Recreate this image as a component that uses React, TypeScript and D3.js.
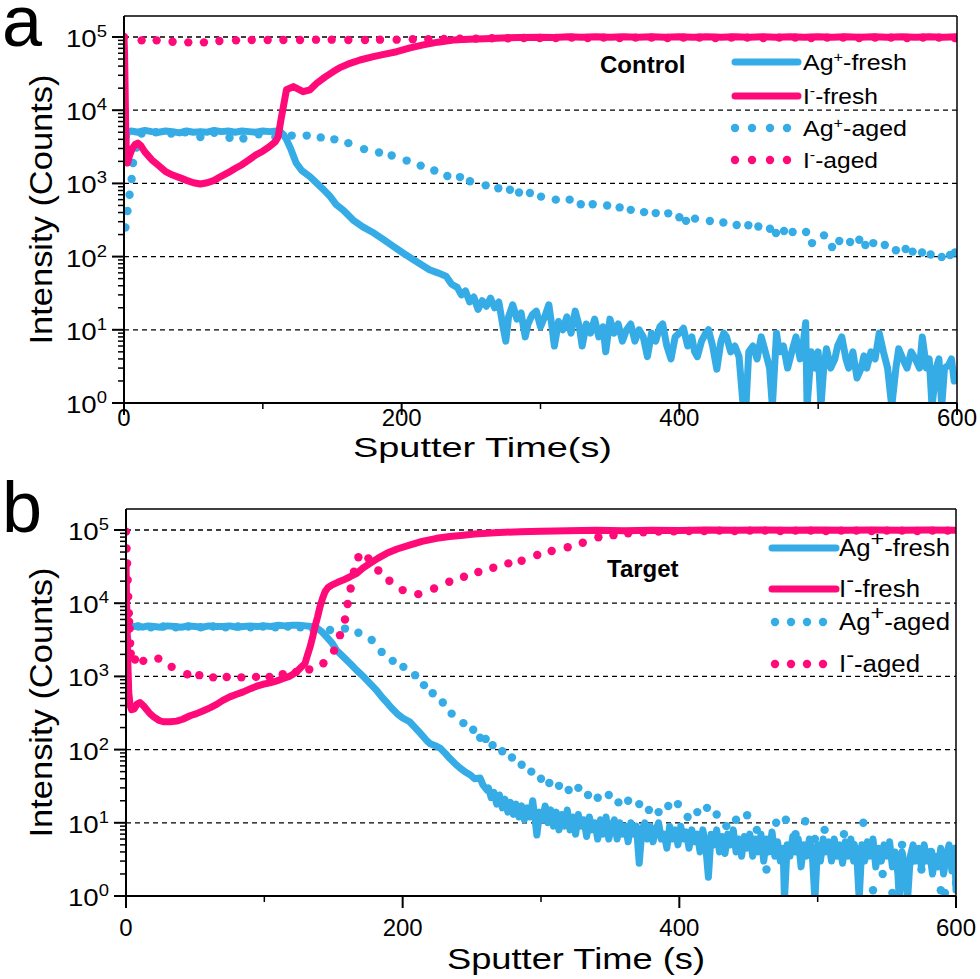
import React from 'react';
import * as d3 from 'd3';

type Pt = [number, number];

// ---- panel a (Control) ----
const agFreshA: Pt[] = [
  [0, 3500], [0.5, 2600], [1.5, 4200], [2.5, 5000], [5, 5200], [10, 5000], [15, 5300], [20, 5100],
  [25, 5000], [30, 5200], [35, 5100], [40, 4900], [45, 5200], [50, 5000], [55, 5100], [60, 5000],
  [65, 5300], [70, 5100], [75, 5200], [80, 5000], [85, 5200], [90, 5100], [95, 5000], [100, 5200],
  [105, 5100], [110, 5200], [113, 5000], [115, 4600], [117, 4000], [120, 3000], [124, 1900],
  [128, 1500], [134, 1230], [139, 1000], [144, 810], [148, 680], [153, 510], [158, 430], [165, 316],
  [172, 255], [180, 210], [187, 170], [194, 138], [201, 112], [208, 92], [214, 78], [220, 66],
  [226, 60], [232, 54], [236, 42], [240, 38], [243, 30], [246, 34], [249, 24], [252, 28], [255, 19],
  [258, 25], [261, 21], [264, 27], [267, 20], [270, 24], [273, 11], [275, 7], [277, 15], [280, 22],
  [283, 14], [286, 17], [289, 8], [291, 12], [294, 16], [297, 18], [300, 11], [303, 15], [306, 22],
  [308, 12], [310, 6], [313, 13], [316, 10], [319, 15], [322, 9], [325, 18], [328, 11], [330, 6],
  [333, 12], [336, 9], [339, 14], [342, 8], [345, 11], [347, 5], [350, 14], [353, 9], [356, 12],
  [359, 7], [362, 10], [365, 12], [368, 7], [371, 10], [374, 8], [377, 4.3], [380, 9], [383, 7],
  [386, 11], [388, 12], [391, 6], [394, 4], [397, 8], [400, 9], [403, 10.5], [406, 6], [409, 8],
  [411, 5], [413, 4.3], [416, 7], [419, 9], [421, 10], [424, 6], [427, 2.9], [430, 7], [432, 9],
  [434, 8], [437, 5], [440, 6], [443, 4.3], [446, 0.9], [448, 0.9], [450, 5], [453, 6], [456, 4],
  [459, 8], [462, 5], [465, 3], [467, 0.9], [470, 9], [472, 5], [475, 6], [478, 3], [481, 5],
  [484, 8], [487, 4], [489, 6], [491, 12.5], [492, 0.9], [495, 5], [498, 3], [500, 5], [502, 0.9],
  [504, 3], [506, 5.5], [509, 3], [512, 4], [514, 6], [517, 8], [520, 4], [522, 3], [525, 5],
  [528, 2.2], [531, 3], [533, 4.4], [535, 3], [538, 5], [541, 4], [544, 9], [547, 5], [550, 3],
  [553, 0.9], [556, 3], [558, 5.5], [561, 4], [564, 3], [567, 5], [570, 4], [573, 3], [575, 8],
  [578, 3], [580, 4], [582, 0.9], [585, 3], [587, 4], [589, 0.9], [591, 3], [594, 3.3], [596, 4],
  [598, 2], [600, 2.5],
];

const iFreshA: Pt[] = [
  [0, 100000], [0.4, 60000], [0.8, 20000], [1.2, 6000], [1.8, 2200], [2.5, 1900], [4, 2400],
  [6, 3000], [8, 3400], [10, 3550], [12, 3300], [15, 2700], [20, 2100], [25, 1750], [30, 1450],
  [35, 1300], [40, 1200], [45, 1100], [50, 1020], [55, 980], [60, 1020], [65, 1100], [70, 1250],
  [75, 1400], [80, 1600], [85, 1800], [90, 2100], [95, 2450], [100, 2750], [105, 3200], [109, 3700],
  [111, 4300], [113, 7300], [114.8, 11200], [117, 19000], [122, 21000], [129, 17900], [134, 19000],
  [138.8, 23300], [145, 28500], [150.8, 33700], [156, 38500], [162.8, 43700], [170, 48500],
  [179.6, 54000], [188, 58500], [196.4, 63000], [206, 71000], [215.6, 78000], [226, 85000],
  [237.2, 91000], [248, 93500], [260, 95000], [272, 97000], [285, 98500], [300, 99500], [310, 98500],
  [320, 100500], [330, 99000], [340, 101000], [350, 99000], [360, 100500], [370, 99500], [380, 101000],
  [390, 99000], [400, 100500], [410, 99500], [420, 101000], [430, 99000], [440, 100500], [450, 99500],
  [460, 101000], [470, 99000], [480, 100500], [490, 99500], [500, 101000], [510, 99000], [520, 100500],
  [530, 99500], [540, 101000], [550, 99000], [560, 100500], [570, 99500], [580, 101000], [590, 99500],
  [600, 100500],
];

const agAgedA: Pt[] = [
  [1, 250], [2.5, 420], [4, 700], [5.5, 1150], [6.5, 1900], [9, 3100], [12.7, 4800], [23, 5000],
  [34, 4800], [44, 5000], [55, 4300], [65, 4900], [76, 4200], [86, 4100], [97, 4700], [109, 4300],
  [120.8, 4500], [131.6, 4500], [141.7, 4250], [151.5, 4000], [161.6, 3550], [172.9, 2940],
  [183.7, 2640], [192.8, 2400], [203.6, 2050], [213.7, 1750], [223.5, 1500], [232.9, 1260],
  [242, 1220], [249.2, 1070], [260.5, 940], [269.6, 860], [278, 820], [284.5, 750], [292.4, 740],
  [300.4, 660], [311, 600], [321, 600], [329, 520], [337.6, 520], [348, 500], [357, 470], [365, 435],
  [374.6, 405], [383, 393], [392, 390], [400, 345], [404.8, 308], [411.3, 330], [422, 306],
  [431.7, 293], [441.3, 270], [449.7, 268], [456.9, 258], [465.3, 240], [469.6, 210], [475.4, 224],
  [481.6, 217], [491.3, 217], [495.6, 153], [504.2, 195], [510, 135], [515.2, 163], [523, 158],
  [529.6, 170], [534, 144], [539.7, 153], [548, 144], [556, 122], [563, 127], [568, 117],
  [574.8, 114], [581, 107], [589, 99], [595, 105], [598.6, 114],
];

const iAgedA: Pt[] = [
  [0, 100000], [12.7, 90000], [23.5, 90000], [35, 86000], [46.3, 84500], [57.6, 84500], [68.7, 88000],
  [80.7, 90000], [92, 91000], [103.5, 91000], [114.8, 91000], [126.8, 91000], [138.3, 92000],
  [149.6, 92000], [161.6, 91000], [173.6, 91000], [184.4, 92000], [196.4, 92000], [208, 93000],
  [219.2, 93000], [230.5, 94000], [242, 95000], [253.5, 95000], [265, 96000], [276.5, 96000],
  [288, 97000], [299.5, 97000], [311, 97000], [322.5, 98000], [334, 97000], [345.5, 98000],
  [357, 97000], [368.5, 98000], [380, 98000], [391.5, 97000], [403, 98000], [414.5, 98000],
  [426, 97000], [437.5, 98000], [449, 98000], [460.5, 97000], [472, 98000], [483.5, 98000],
  [495, 97000], [506.5, 98000], [518, 98000], [529.5, 97000], [541, 98000], [552.5, 98000],
  [564, 97000], [575.5, 98000], [587, 98000], [598.5, 97000],
];

// ---- panel b (Target) ----
const agFreshB: Pt[] = [
  [0, 5500], [1, 4800], [4, 4700], [8, 4900], [12, 4700], [16, 4900], [20, 4800], [25, 4700],
  [30, 4900], [35, 4800], [40, 4700], [45, 4900], [50, 4800], [55, 4700], [60, 4900], [65, 4800],
  [70, 4800], [75, 4900], [80, 4700], [85, 4800], [90, 4900], [95, 4800], [100, 4900], [105, 4800],
  [110, 5000], [115, 4900], [120, 5000], [125, 5000], [130, 4900], [134, 4800], [138, 4600],
  [142, 4000], [145, 3460], [149, 2850], [152, 2300], [157, 1850], [162, 1500], [167, 1200],
  [172, 980], [177, 780], [181, 650], [185, 520], [189, 430], [192, 370], [196, 310], [200, 270],
  [205, 240], [209, 200], [213, 165], [217, 135], [220, 120], [224, 112], [227, 105], [231, 88],
  [234, 76], [238, 64], [242, 55], [245, 50], [249, 45], [252, 40], [256, 41], [258, 33], [261, 28],
  [262, 30], [264, 22], [266, 26], [268, 18], [270, 24], [272, 16], [274, 21], [276, 14], [278, 19],
  [280, 13], [282, 18], [284, 12], [286, 17], [288, 11], [290, 16], [292, 12], [294, 20], [296, 10],
  [297, 6.8], [299, 14], [301, 11], [303, 17], [305, 10], [307, 15], [309, 9], [311, 14], [313, 8],
  [315, 13], [317, 9], [319, 15], [321, 8], [323, 12], [325, 7], [327, 13], [329, 9], [331, 11],
  [333, 6.5], [335, 12], [337, 8], [339, 10], [341, 6], [343, 11], [345, 7], [347, 12], [349, 6],
  [351, 9], [353, 11], [355, 6], [357, 10], [359, 7], [361, 9], [363, 5.5], [365, 10], [367, 7],
  [369, 9], [371, 2.8], [373, 8], [375, 10], [377, 6], [379, 9], [381, 5.5], [383, 8], [385, 10],
  [387, 6], [389, 7], [391, 4.5], [393, 9], [395, 6], [397, 8], [399, 5], [401, 9], [403, 6],
  [405, 7.5], [407, 4.5], [409, 8], [411, 5.5], [413, 7], [415, 4], [417, 8], [419, 5], [421, 1.8],
  [423, 7], [425, 5], [427, 8], [429, 4], [431, 6.5], [433, 3.8], [435, 7], [437, 5], [439, 8],
  [441, 4], [443, 6], [445, 3.5], [447, 6.5], [449, 4.5], [451, 7], [453, 3.5], [455, 6], [457, 4],
  [459, 7], [461, 3], [463, 6], [465, 4], [467, 7.5], [469, 3.5], [471, 5.5], [473, 3], [475, 4.5],
  [476, 0.9], [478, 5], [480, 3.5], [482, 6.5], [484, 4], [486, 6], [488, 2.5], [490, 5], [492, 3.5],
  [494, 6], [496, 4], [498, 0.9], [500, 5], [502, 3], [504, 6], [506, 4], [508, 5.5], [510, 3],
  [512, 6], [514, 3.5], [516, 5], [518, 2.8], [520, 5.5], [522, 3.5], [524, 6], [526, 3], [528, 4.5],
  [530, 0.9], [532, 5], [534, 3], [536, 5.5], [538, 3.5], [540, 6], [542, 2.5], [544, 4.5], [546, 3],
  [548, 5], [550, 3.5], [552, 5.5], [554, 2.5], [556, 4], [558, 2], [559, 0.9], [561, 4], [563, 2.5],
  [565, 0.9], [567, 3.5], [569, 5], [571, 3], [573, 4.5], [575, 2.5], [577, 5], [579, 3], [581, 4],
  [583, 2], [585, 3.5], [587, 2.5], [589, 4.5], [591, 2], [593, 3.5], [595, 5], [597, 2.2], [599, 4.5],
  [600, 1.2],
];

const iFreshB: Pt[] = [
  [0, 35000], [0.5, 9000], [1, 3000], [1.5, 1200], [2, 600], [3, 400], [4, 350], [6, 360], [8, 420],
  [10, 440], [12.5, 400], [15, 350], [17.3, 310], [20, 280], [24, 250], [27, 240], [32, 240],
  [36.6, 245], [41, 260], [46.3, 290], [51, 310], [56, 340], [61, 375], [65.5, 415], [70, 470],
  [75, 525], [80, 570], [84.8, 615], [90, 680], [94.5, 735], [99, 780], [104, 815], [109, 870],
  [113.7, 935], [118, 1000], [121, 1080], [123.4, 1160], [126, 1300], [129.4, 1500], [131, 1900],
  [133, 2500], [135, 3500], [136.6, 4800], [138.5, 6500], [140.2, 8900], [142, 11500], [143.9, 14400],
  [146, 16300], [148.7, 17700], [153, 19300], [157, 20700], [162, 23000], [166.8, 25600], [171, 30000],
  [176.4, 35000], [182, 41000], [188.5, 48000], [196, 55000], [205, 62000], [214, 70000],
  [224.6, 77000], [234, 81500], [243.9, 85000], [252, 88000], [260.7, 90000], [270, 92500],
  [285, 95000], [300, 96500], [320, 97500], [340, 99000], [360, 98000], [380, 99500], [400, 98500],
  [420, 100000], [440, 99000], [460, 100000], [480, 99000], [500, 100000], [520, 99000],
  [540, 100000], [560, 99500], [580, 100000], [600, 99500],
];

const agAgedB: Pt[] = [
  [0, 1150], [0.4, 1950], [0.8, 3300], [1.2, 5300], [9, 4800], [18, 4700], [27, 4800], [36, 4700],
  [45, 4800], [54, 4700], [63, 4800], [72, 4700], [81, 4800], [90, 4700], [99, 4800], [108, 4700],
  [117, 4800], [126, 4700], [135, 4500], [147.5, 4300], [158.3, 4500], [168, 3950], [177.6, 3150],
  [184.8, 2160], [192.8, 1630], [200.5, 1350], [209, 1040], [215.4, 760], [221.7, 590], [229, 440],
  [235.4, 310], [243.9, 230], [251, 187], [256, 145], [260, 140], [265, 115], [272, 95], [279, 78],
  [286, 62], [293, 50], [300, 40], [306, 35], [313, 32], [320, 28], [327, 30], [334, 24], [341, 22],
  [349, 24], [356, 19], [363, 20], [371, 18], [378, 15], [385, 14], [392, 17], [399, 18], [406, 12],
  [413, 14], [420, 16], [427, 13], [434, 9], [441, 11], [449, 12.7], [456, 8], [463, 2.3], [470, 10],
  [477, 11], [484, 7], [491, 10.5], [498, 6], [505, 8], [512, 4], [519, 7], [526, 5], [533, 10],
  [540, 1.2], [547, 2], [554, 1.1], [561, 5], [568, 3], [575, 2.3], [582, 4], [589, 1.2], [592, 1.1],
  [596, 3], [600, 1.5],
];

const iAgedB: Pt[] = [
  [0, 95000], [0.4, 56000], [0.8, 35000], [1.2, 20700], [1.6, 12300], [2, 7300], [2.3, 5600],
  [2.6, 4500], [3, 2830], [3.4, 2050], [6.5, 1700], [12.5, 1630], [23.4, 1750], [33, 1350],
  [44.3, 1070], [53, 1040], [63, 970], [72.8, 980], [83.4, 970], [94, 985], [103.7, 985],
  [113.3, 1070], [122.9, 1150], [132.5, 1240], [142.7, 1510], [150.4, 2250], [154.7, 3660],
  [158.3, 6000], [160.2, 9750], [162.4, 15900], [164.8, 27000], [168, 42500], [175.2, 41000],
  [182.4, 28000], [190.4, 20300], [200, 15100], [211.3, 13300], [222.7, 15900], [233.7, 19600],
  [244.3, 23000], [254.7, 26700], [265.5, 30500], [276.4, 35000], [286, 38000], [297.3, 45500],
  [307.7, 51700], [319.3, 58000], [330.2, 67000], [341.5, 79500], [352.4, 85000], [363, 90000],
  [374, 93000], [385, 95000], [396, 96000], [407, 97000], [418, 97000], [429, 98000], [440, 97000],
  [451, 98000], [462, 98000], [473, 97000], [484, 98000], [495, 98000], [506, 97000], [517, 98000],
  [528, 98000], [539, 97000], [550, 98000], [561, 98000], [572, 97000], [583, 98000], [594, 98000],
];

const yExponents = [0, 1, 2, 3, 4, 5];
const xMajorTicks = [0, 200, 400, 600];
const xMinorTicks = [100, 300, 500];
const legendNames = ['Ag', 'I', 'Ag', 'I'];
const legendSups = ['+', '-', '+', '-'];
const legendSuffix = ['-fresh', '-fresh', '-aged', '-aged'];

const BLUE = '#36ACE6';
const PINK = '#FF0A78';
const FONT = "'Liberation Sans', Arial, Helvetica, sans-serif";
const Y_TOP = Math.pow(10, 5.287);

type Box = { left: number; right: number; top: number; bottom: number };

type LegendCfg = {
  x1: number; x2: number; textX: number; rows: number[]; dotsX: number[];
  size: number; supSize: number; supRise: number; widths: number[];
};

function Panel(props: {
  id: string; box: Box; letter: string; letterY: number;
  agFresh: Pt[]; iFresh: Pt[]; agAged: Pt[]; iAged: Pt[];
  xTitle: string; xLabelY: number; xTitleX: number; xTitleY: number; xTitleW: number; xTitleSize: number;
  tag: string; tagX: number; tagY: number; tagSize: number; legend: LegendCfg;
}) {
  const { id, box, legend } = props;
  const x = d3.scaleLinear().domain([0, 600]).range([box.left, box.right]);
  const y = d3.scaleLog().domain([1, Y_TOP]).range([box.bottom, box.top]);
  const line = d3.line<Pt>().x((d) => x(d[0])).y((d) => y(d[1]));

  const minor: number[] = [];
  yExponents.forEach((e) => {
    for (let k = 2; k <= 9; k++) {
      const v = k * Math.pow(10, e);
      if (v < Y_TOP) minor.push(v);
    }
  });
  const colors = [BLUE, PINK, BLUE, PINK];

  return (
    <g>
      <defs>
        <clipPath id={id}>
          <rect x={box.left} y={box.top} width={box.right - box.left} height={box.bottom - box.top} />
        </clipPath>
      </defs>
      {/* grid */}
      {yExponents.filter((e) => e > 0).map((e) => (
        <line key={e} x1={box.left} x2={box.right} y1={y(Math.pow(10, e))} y2={y(Math.pow(10, e))}
          stroke="#000" strokeWidth={1.3} strokeDasharray="5,4" />
      ))}
      <g clipPath={`url(#${id})`}>
        <path d={line(props.agFresh) || ''} fill="none" stroke={BLUE} strokeWidth={7} strokeLinejoin="round" strokeLinecap="round" />
        {props.agAged.map((d, i) => (
          <circle key={'a' + i} cx={x(d[0])} cy={y(d[1])} r={4.2} fill={BLUE} />
        ))}
        <path d={line(props.iFresh) || ''} fill="none" stroke={PINK} strokeWidth={7} strokeLinejoin="round" strokeLinecap="round" />
        {props.iAged.map((d, i) => (
          <circle key={'i' + i} cx={x(d[0])} cy={y(d[1])} r={4.2} fill={PINK} />
        ))}
      </g>
      {/* frame */}
      <line x1={box.left} x2={box.right} y1={box.top} y2={box.top} stroke="#000" strokeWidth={1.5} />
      <line x1={box.right} x2={box.right} y1={box.top} y2={box.bottom} stroke="#000" strokeWidth={1.5} />
      <line x1={box.left} x2={box.left} y1={box.top} y2={box.bottom + 12} stroke="#000" strokeWidth={2} />
      <line x1={box.left - 12} x2={box.right} y1={box.bottom} y2={box.bottom} stroke="#000" strokeWidth={2} />
      {/* y ticks */}
      {yExponents.map((e) => (
        <line key={'yt' + e} x1={box.left - 12} x2={box.left} y1={y(Math.pow(10, e))} y2={y(Math.pow(10, e))} stroke="#000" strokeWidth={2} />
      ))}
      {minor.map((v) => (
        <line key={'ym' + v} x1={box.left - 6} x2={box.left} y1={y(v)} y2={y(v)} stroke="#000" strokeWidth={1.5} />
      ))}
      {yExponents.map((e) => (
        <text key={'yl' + e} x={box.left - 58} y={y(Math.pow(10, e)) + 10} fontFamily={FONT} fontSize={24}
          textLength={41} lengthAdjust="spacingAndGlyphs">
          10<tspan dy={-10} fontSize={16}>{e}</tspan>
        </text>
      ))}
      {/* x ticks */}
      {xMajorTicks.map((t) => (
        <g key={'xt' + t}>
          <line x1={x(t)} x2={x(t)} y1={box.bottom} y2={box.bottom + 12} stroke="#000" strokeWidth={2} />
          <text x={x(t)} y={props.xLabelY} textAnchor="middle" fontFamily={FONT} fontSize={24}>{t}</text>
        </g>
      ))}
      {xMinorTicks.map((t) => (
        <line key={'xm' + t} x1={x(t)} x2={x(t)} y1={box.bottom} y2={box.bottom + 6} stroke="#000" strokeWidth={1.5} />
      ))}
      {/* titles */}
      <text x={props.xTitleX} y={props.xTitleY} fontFamily={FONT} fontSize={props.xTitleSize}
        textLength={props.xTitleW} lengthAdjust="spacingAndGlyphs">{props.xTitle}</text>
      <text transform={`translate(52,${(box.top + box.bottom) / 2 + 135}) rotate(-90)`} fontFamily={FONT} fontSize={31}
        textLength={270} lengthAdjust="spacingAndGlyphs">Intensity (Counts)</text>
      <text x={2} y={props.letterY} fontFamily={FONT} fontSize={72}>{props.letter}</text>
      <text x={props.tagX} y={props.tagY} fontFamily={FONT} fontSize={props.tagSize} fontWeight="bold">{props.tag}</text>
      {/* legend */}
      {legend.rows.map((ry, i) => (
        <g key={'lg' + i}>
          {i < 2 ? (
            <line x1={legend.x1} x2={legend.x2} y1={ry} y2={ry} stroke={colors[i]} strokeWidth={7} strokeLinecap="round" />
          ) : (
            legend.dotsX.map((dx) => <circle key={dx} cx={dx} cy={ry} r={4.2} fill={colors[i]} />)
          )}
          <text x={legend.textX} y={ry + 7.5} fontFamily={FONT} fontSize={legend.size}
            textLength={legend.widths[i]} lengthAdjust="spacingAndGlyphs">
            {legendNames[i]}
            <tspan dy={-legend.supRise} fontSize={legend.supSize}>{legendSups[i]}</tspan>
            <tspan dy={legend.supRise}>{legendSuffix[i]}</tspan>
          </text>
        </g>
      ))}
    </g>
  );
}

export default function App() {
  return (
    <svg width={980} height={979} style={{ position: 'absolute', left: 0, top: 0, background: '#fff' }}>
      <rect width={980} height={979} fill="#fff" />
      <Panel
        id="clipA" box={{ left: 124, right: 957, top: 16, bottom: 403 }} letter="a" letterY={46}
        agFresh={agFreshA} iFresh={iFreshA} agAged={agAgedA} iAged={iAgedA}
        xTitle="Sputter Time(s)" xLabelY={426} xTitleX={353} xTitleY={457} xTitleW={259} xTitleSize={28}
        tag="Control" tagX={600} tagY={73} tagSize={24}
        legend={{ x1: 735, x2: 798, textX: 803, rows: [62, 96, 128, 160], dotsX: [735, 752, 770, 787],
          size: 21.5, supSize: 14, supRise: 8, widths: [104, 75, 104, 75] }}
      />
      <Panel
        id="clipB" box={{ left: 126, right: 956, top: 509, bottom: 896 }} letter="b" letterY={532}
        agFresh={agFreshB} iFresh={iFreshB} agAged={agAgedB} iAged={iAgedB}
        xTitle="Sputter Time (s)" xLabelY={936} xTitleX={447} xTitleY={969} xTitleW={258} xTitleSize={30}
        tag="Target" tagX={607} tagY={577} tagSize={24}
        legend={{ x1: 772, x2: 836, textX: 839, rows: [548, 589, 622, 664], dotsX: [775, 791, 807, 823],
          size: 23, supSize: 21, supRise: 10, widths: [111, 81, 111, 81] }}
      />
    </svg>
  );
}
